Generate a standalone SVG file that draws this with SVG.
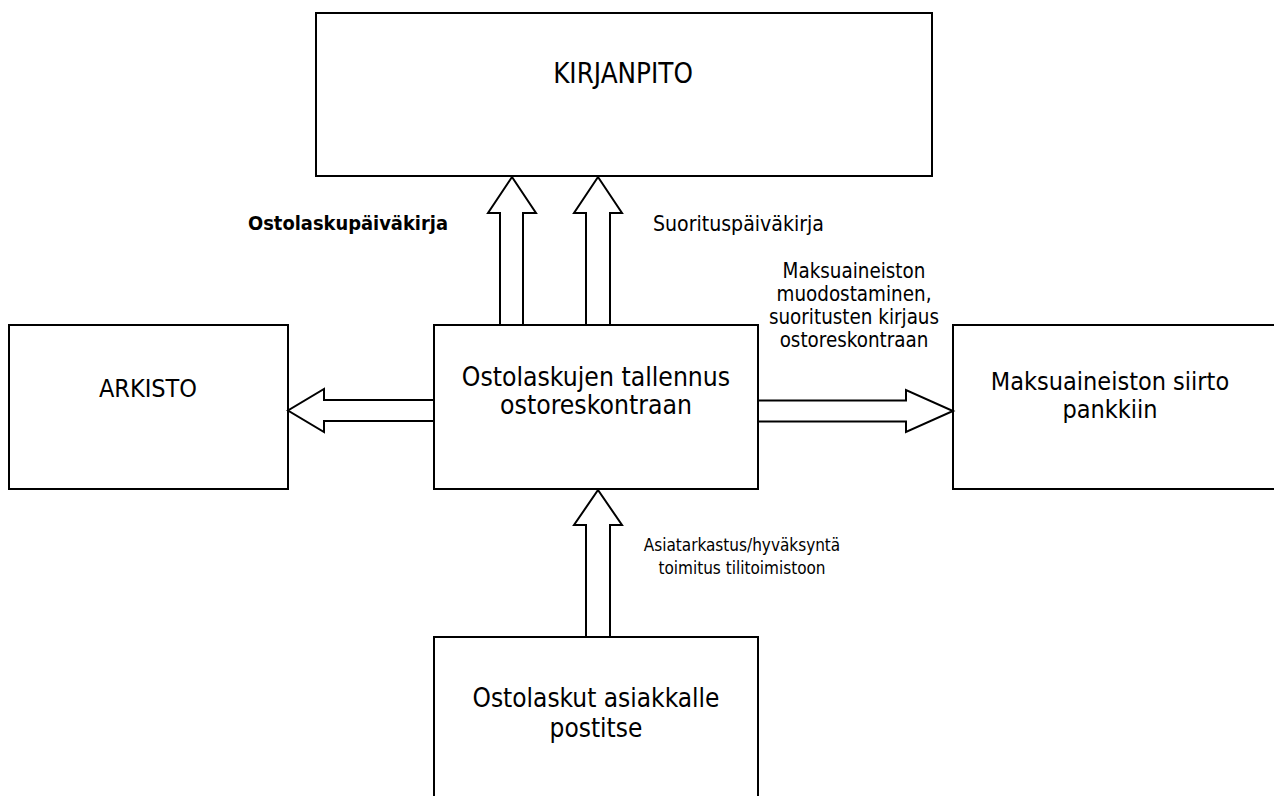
<svg xmlns="http://www.w3.org/2000/svg" width="1274" height="796" viewBox="0 0 1274 796">
<style>
.box{fill:#fff;stroke:#000;stroke-width:2}
.arr{fill:#fff;stroke:#000;stroke-width:2;stroke-linejoin:miter}
text{font-family:"DejaVu Sans Condensed","DejaVu Sans",sans-serif;fill:#000}
.big{font-size:25px;text-anchor:middle}
.lbl{font-size:20.4px}
.mid{text-anchor:middle}
.bold{font-weight:bold}
</style>
<rect width="1274" height="796" fill="#fff"/>
<g id="kirjanpito">
<rect class="box" x="316" y="13" width="616" height="163"/>
<text class="big" x="623" y="83" style="font-size:27.5px">KIRJANPITO</text>
</g>
<g id="arkisto">
<rect class="box" x="9" y="325" width="279" height="164"/>
<text class="big" x="148" y="397">ARKISTO</text>
</g>
<g id="ostoreskontra">
<rect class="box" x="434" y="325" width="324" height="164"/>
<text class="big" x="596" y="386" style="font-size:26.3px">Ostolaskujen tallennus</text>
<text class="big" x="596" y="414" style="font-size:26.3px">ostoreskontraan</text>
</g>
<g id="pankki">
<rect class="box" x="953" y="325" width="340" height="164"/>
<text class="big" x="1110" y="390">Maksuaineiston siirto</text>
<text class="big" x="1110" y="418">pankkiin</text>
</g>
<g id="ostolaskut">
<rect class="box" x="434" y="637" width="324" height="180"/>
<text class="big" x="596" y="707" style="font-size:26px">Ostolaskut asiakkalle</text>
<text class="big" x="596" y="737" style="font-size:26px">postitse</text>
</g>
<g id="connectors">
<polygon class="arr" points="500,325 500,213 488,213 512,177 536,213 523,213 523,325"/>
<polygon class="arr" points="586,325 586,213 574,213 598,177 622,213 610,213 610,325"/>
<polygon class="arr" points="586,637 586,525 574,525 598,490 622,525 610,525 610,637"/>
<polygon class="arr" points="434,400 324,400 324,389 288,410.5 324,432 324,421 434,421"/>
<polygon class="arr" points="758,400.5 906,400.5 906,390 953,411 906,432 906,421.5 758,421.5"/>
</g>
<g id="labels">
<text class="lbl bold" x="448" y="230" text-anchor="end" style="font-size:19.9px">Ostolaskupäiväkirja</text>
<text class="lbl" x="653" y="231" style="font-size:21.1px">Suorituspäiväkirja</text>
<text class="lbl mid" x="854" y="278">Maksuaineiston</text>
<text class="lbl mid" x="854" y="301">muodostaminen,</text>
<text class="lbl mid" x="854" y="324">suoritusten kirjaus</text>
<text class="lbl mid" x="854" y="347">ostoreskontraan</text>
<text class="lbl mid" x="742" y="551" style="font-size:17px">Asiatarkastus/hyväksyntä</text>
<text class="lbl mid" x="742" y="574" style="font-size:17px">toimitus tilitoimistoon</text>
</g>
</svg>
